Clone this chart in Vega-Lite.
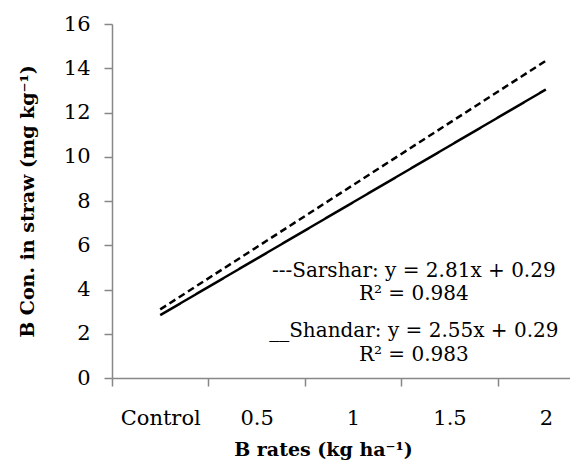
{
  "$schema": "https://vega.github.io/schema/vega-lite/v6.json",
  "width": 458,
  "height": 354,
  "autosize": {"type": "none"},
  "padding": {"left": 112, "top": 24, "right": 0, "bottom": 86},
  "background": "white",
  "config": {"view": {"stroke": null}, "font": "DejaVu Serif"},
  "layer": [
    {
      "data": {"values": [
        {"x": 0, "y": 3.10, "series": "Sarshar"},
        {"x": 1, "y": 5.91, "series": "Sarshar"},
        {"x": 2, "y": 8.72, "series": "Sarshar"},
        {"x": 3, "y": 11.53, "series": "Sarshar"},
        {"x": 4, "y": 14.34, "series": "Sarshar"},
        {"x": 0, "y": 2.84, "series": "Shandar"},
        {"x": 1, "y": 5.39, "series": "Shandar"},
        {"x": 2, "y": 7.94, "series": "Shandar"},
        {"x": 3, "y": 10.49, "series": "Shandar"},
        {"x": 4, "y": 13.04, "series": "Shandar"}
      ]},
      "mark": {"type": "line", "color": "black", "strokeWidth": 2.5},
      "encoding": {
        "x": {"field": "x", "type": "quantitative",
          "scale": {"domain": [-0.5, 4.25], "nice": false, "zero": false},
          "axis": {"orient": "bottom", "values": [-0.5, 0.5, 1.5, 2.5, 3.5], "labels": false, "title": null,
            "grid": false, "tickSize": 8, "domainColor": "#878787", "tickColor": "#878787", "domainWidth": 1.5, "tickWidth": 1.5}},
        "y": {"field": "y", "type": "quantitative",
          "scale": {"domain": [0, 16], "nice": false},
          "axis": {"values": [0, 2, 4, 6, 8, 10, 12, 14, 16], "grid": false, "tickSize": 8,
            "domainColor": "#878787", "tickColor": "#878787", "domainWidth": 1.5, "tickWidth": 1.5,
            "labelFont": "DejaVu Serif", "labelFontSize": 21, "labelColor": "black", "labelPadding": 14,
            "title": "B Con. in straw (mg kg⁻¹)", "titleFont": "DejaVu Serif", "titleFontSize": 19,
            "titleFontWeight": "bold", "titleColor": "black", "titlePadding": 26}},
        "strokeDash": {"field": "series", "type": "nominal",
          "scale": {"domain": ["Sarshar", "Shandar"], "range": [[7, 4], [1, 0]]}, "legend": null}
      }
    },
    {
      "data": {"values": [
        {"x": 2.63, "y": 4.85, "label": "---Sarshar: y = 2.81x + 0.29"},
        {"x": 2.63, "y": 3.78, "label": "R² = 0.984"},
        {"x": 2.63, "y": 2.12, "label": "__Shandar: y = 2.55x + 0.29"},
        {"x": 2.63, "y": 1.05, "label": "R² = 0.983"}
      ]},
      "mark": {"type": "text", "font": "DejaVu Serif", "fontSize": 20, "color": "black", "align": "center", "baseline": "middle"},
      "encoding": {
        "x": {"field": "x", "type": "quantitative",
          "axis": {"orient": "bottom", "values": [0, 1, 2, 3, 4], "ticks": false, "domain": false, "grid": false,
            "labelExpr": "['Control','0.5','1','1.5','2'][datum.value]",
            "labelFont": "DejaVu Serif", "labelFontSize": 21, "labelColor": "black", "labelPadding": 29,
            "title": "B rates (kg ha⁻¹)", "titleFont": "DejaVu Serif", "titleFontSize": 19,
            "titleFontWeight": "bold", "titleColor": "black", "titleX": 211, "titleAlign": "center", "titlePadding": 12}},
        "y": {"field": "y", "type": "quantitative"},
        "text": {"field": "label"}
      }
    }
  ],
  "resolve": {"axis": {"x": "independent"}}
}
